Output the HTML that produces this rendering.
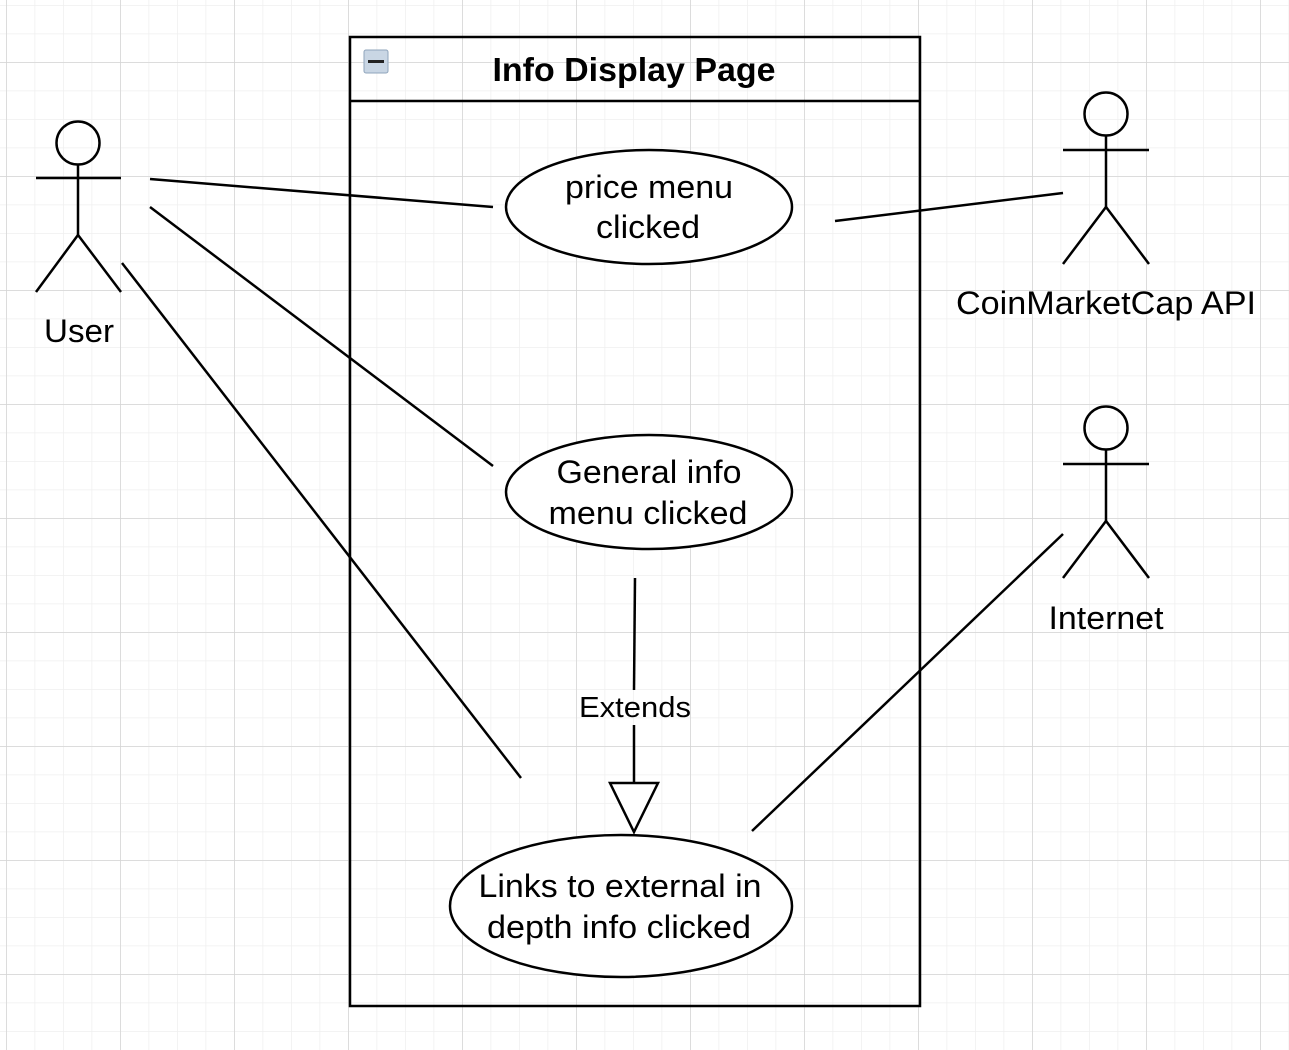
<!DOCTYPE html>
<html><head><style>html,body{margin:0;padding:0;background:#fff}svg{display:block}text{font-family:"Liberation Sans",sans-serif}</style></head><body>
<svg width="1289" height="1050" viewBox="0 0 1289 1050" xmlns="http://www.w3.org/2000/svg">
<defs>
<pattern id="minor" x="6" y="5" width="28.5" height="28.5" patternUnits="userSpaceOnUse"><path d="M0 0H28.5M0 0V28.5" stroke="#efefef" stroke-width="1.5" fill="none"/></pattern>
<pattern id="major" x="6" y="62" width="114" height="114" patternUnits="userSpaceOnUse"><path d="M0 0H114M0 0V114" stroke="#d4d4d4" stroke-width="1.5" fill="none"/></pattern>
</defs>
<rect width="1289" height="1050" fill="url(#minor)"/>
<rect width="1289" height="1050" fill="url(#major)"/>
<g stroke="#000" stroke-width="2.5" fill="none">
<rect x="350" y="37" width="570" height="969" fill="none"/>
<line x1="350" y1="101" x2="920" y2="101"/>
<line x1="150" y1="179" x2="493" y2="207"/>
<line x1="150" y1="207" x2="493" y2="466"/>
<line x1="122" y1="263" x2="521" y2="778"/>
<line x1="835" y1="221" x2="1063" y2="193"/>
<line x1="752" y1="831" x2="1063" y2="534"/>
<line x1="635" y1="578" x2="634" y2="690"/>
<line x1="634" y1="725" x2="634" y2="783"/>
<polygon points="610,783 658,783 634,832" fill="#fff"/>
<ellipse cx="649" cy="207" rx="143" ry="57" fill="#fff"/>
<ellipse cx="649" cy="492" rx="143" ry="57" fill="#fff"/>
<ellipse cx="621" cy="906" rx="171" ry="71" fill="#fff"/>
<circle cx="78" cy="143" r="21.5"/><line x1="78" y1="165" x2="78" y2="235"/><line x1="36" y1="178" x2="121" y2="178"/><path d="M36 292L78 235L121 292"/>
<circle cx="1106" cy="114" r="21.5"/><line x1="1106" y1="136" x2="1106" y2="207"/><line x1="1063" y1="150" x2="1149" y2="150"/><path d="M1063 264L1106 207L1149 264"/>
<circle cx="1106" cy="428" r="21.5"/><line x1="1106" y1="450" x2="1106" y2="521"/><line x1="1063" y1="464" x2="1149" y2="464"/><path d="M1063 578L1106 521L1149 578"/>
</g>
<rect x="364" y="50" width="24" height="23" rx="2" fill="#c9d6e4" stroke="#8fa4bb" stroke-width="1"/>
<rect x="368" y="60" width="16" height="3" fill="#222"/>
<g font-size="32" text-anchor="middle" fill="#000" lengthAdjust="spacingAndGlyphs">
<text x="634" y="81" font-weight="bold" font-size="33" textLength="283" lengthAdjust="spacingAndGlyphs">Info Display Page</text>
<text x="649" y="198" textLength="168" lengthAdjust="spacingAndGlyphs">price menu</text><text x="648" y="238" textLength="104" lengthAdjust="spacingAndGlyphs">clicked</text>
<text x="649" y="483" textLength="185" lengthAdjust="spacingAndGlyphs">General info</text><text x="648" y="524" textLength="199" lengthAdjust="spacingAndGlyphs">menu clicked</text>
<text x="620" y="897" textLength="283" lengthAdjust="spacingAndGlyphs">Links to external in</text><text x="619" y="938" textLength="264" lengthAdjust="spacingAndGlyphs">depth info clicked</text>
<text x="79" y="342" textLength="70" lengthAdjust="spacingAndGlyphs">User</text>
<text x="1106" y="314" textLength="300" lengthAdjust="spacingAndGlyphs">CoinMarketCap API</text>
<text x="1106" y="629" textLength="115" lengthAdjust="spacingAndGlyphs">Internet</text>
<text x="635" y="717" font-size="29" textLength="112" lengthAdjust="spacingAndGlyphs">Extends</text>
</g>
</svg>
</body></html>
